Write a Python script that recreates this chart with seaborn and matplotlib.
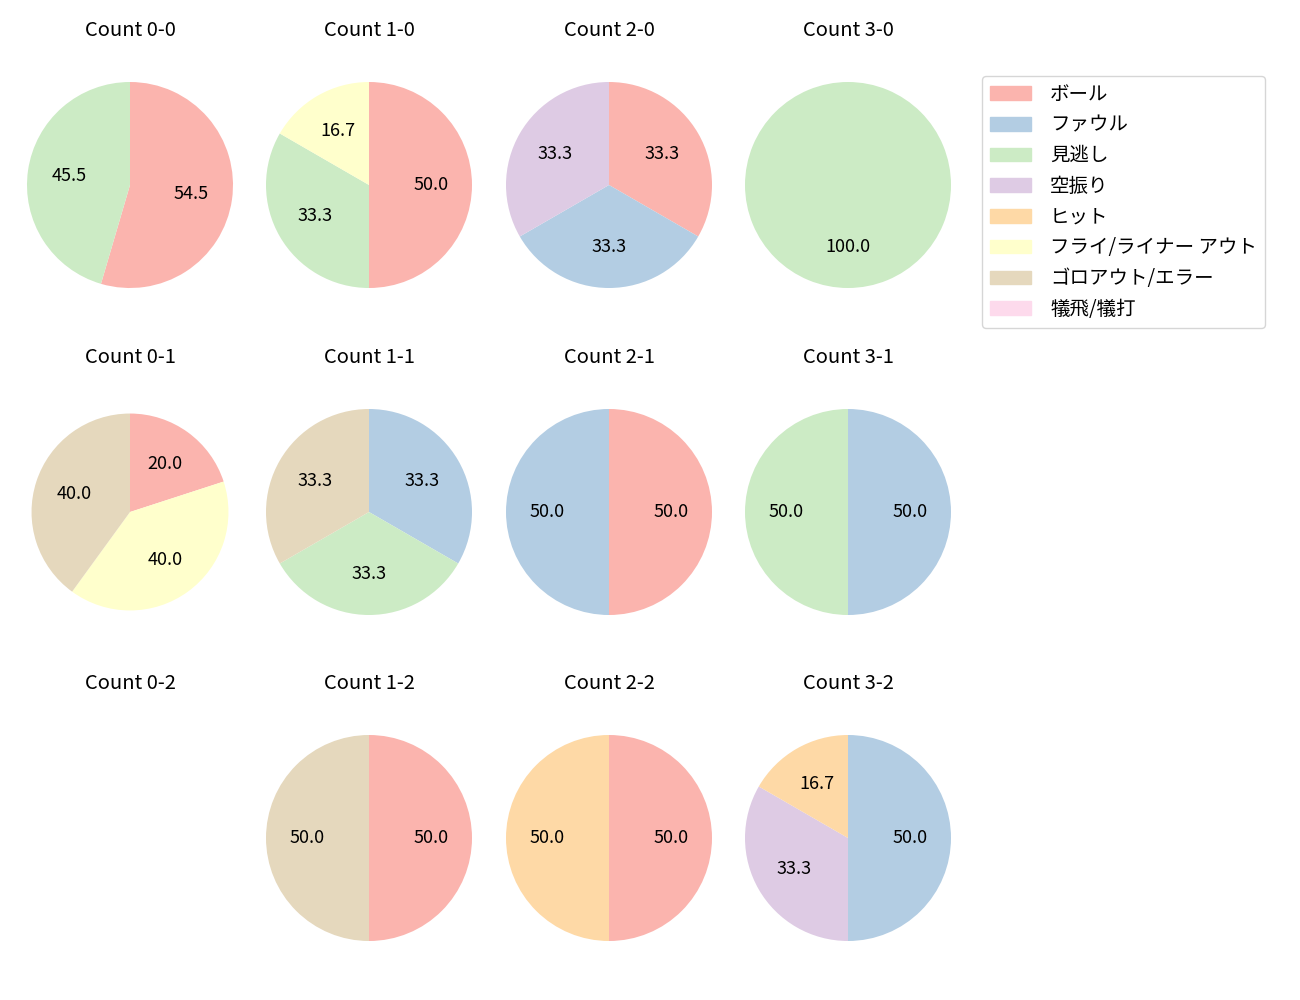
import matplotlib
matplotlib.use("Agg")
import matplotlib.pyplot as plt
import matplotlib.patches as mpatches
import seaborn as sns

categories = ["ボール", "ファウル", "見逃し", "空振り", "ヒット", "フライ/ライナー アウト", "ゴロアウト/エラー", "犠飛/犠打"]

# values per count, in category order (pitch counts)
count_0_0 = [6, 0, 5, 0, 0, 0, 0, 0]
count_1_0 = [3, 0, 2, 0, 0, 1, 0, 0]
count_2_0 = [1, 1, 0, 1, 0, 0, 0, 0]
count_3_0 = [0, 0, 1, 0, 0, 0, 0, 0]
count_0_1 = [1, 0, 0, 0, 0, 2, 2, 0]
count_1_1 = [0, 1, 1, 0, 0, 0, 1, 0]
count_2_1 = [1, 1, 0, 0, 0, 0, 0, 0]
count_3_1 = [0, 1, 1, 0, 0, 0, 0, 0]
count_0_2 = [0, 0, 0, 0, 0, 0, 0, 0]
count_1_2 = [1, 0, 0, 0, 0, 0, 1, 0]
count_2_2 = [1, 0, 0, 0, 1, 0, 0, 0]
count_3_2 = [0, 3, 0, 2, 1, 0, 0, 0]

grid = [
    [("Count 0-0", count_0_0), ("Count 1-0", count_1_0), ("Count 2-0", count_2_0), ("Count 3-0", count_3_0)],
    [("Count 0-1", count_0_1), ("Count 1-1", count_1_1), ("Count 2-1", count_2_1), ("Count 3-1", count_3_1)],
    [("Count 0-2", count_0_2), ("Count 1-2", count_1_2), ("Count 2-2", count_2_2), ("Count 3-2", count_3_2)],
]

plt.rcParams['font.family'] = ['Noto Sans CJK JP', 'DejaVu Sans']
colors = sns.color_palette("Pastel1", 9)

W, H = 1300, 1000
fig = plt.figure(figsize=(13, 10), dpi=100)
fig.patch.set_facecolor("white")

col_centers = [130, 369, 609, 848]
row_centers = [185, 512, 838]
R = 103
size = 2.5 * R

for r, row in enumerate(grid):
    for c, (title, vals) in enumerate(row):
        cx, cy = col_centers[c], row_centers[r]
        ax = fig.add_axes([(cx - size / 2) / W, 1 - (cy + size / 2) / H, size / W, size / H])
        ax.set_title(title, fontsize=14.5, pad=14.5)
        sel = [(v, colors[i]) for i, v in enumerate(vals) if v > 0]
        rad = 0.956 if (r, c) == (1, 0) else 1.0
        if sel:
            ax.pie([s[0] for s in sel], colors=[s[1] for s in sel], startangle=90,
                   counterclock=False, autopct="%.1f", radius=rad,
                   textprops={"fontsize": 13})
        else:
            ax.set_xticks([]); ax.set_yticks([])
            for s in ax.spines.values():
                s.set_visible(False)
        ax.set_xlim(-1.25, 1.25)
        ax.set_ylim(-1.25, 1.25)
        ax.set_aspect("equal")

handles = [mpatches.Patch(color=colors[i], label=lab) for i, lab in enumerate(categories)]
fig.legend(handles=handles, loc="upper left", bbox_to_anchor=(982 / W, 1 - 76 / H),
           fontsize=14, frameon=True, borderaxespad=0, handletextpad=1.0,
           labelspacing=0.5, handlelength=2.1)

fig.savefig("out.png", dpi=100)
